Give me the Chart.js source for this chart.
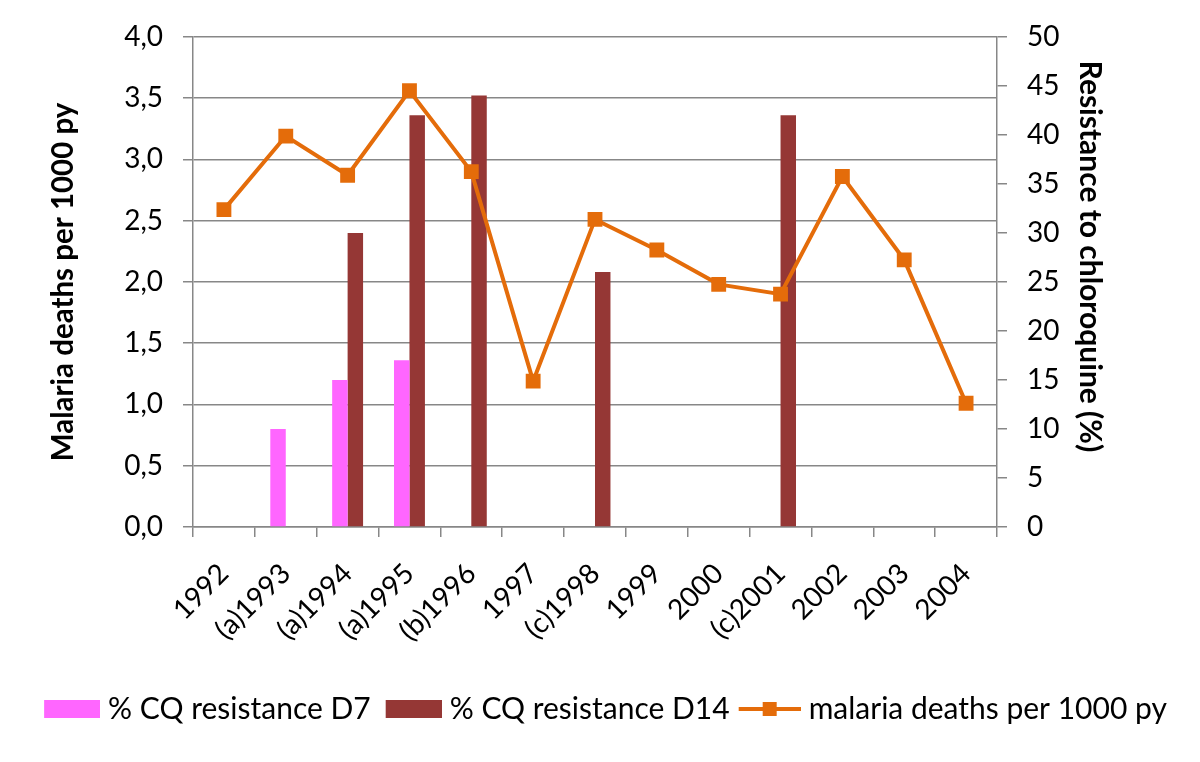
<!DOCTYPE html>
<html>
<head>
<meta charset="utf-8">
<script src="https://cdn.jsdelivr.net/npm/chart.js@4.4.1/dist/chart.umd.min.js"></script>
<style>
  html, body { margin: 0; padding: 0; background: #fff; }
  #chart { display: block; }
</style>
</head>
<body>
<canvas id="chart" width="1200" height="762"></canvas>
<script>
// categories
const years = ["1992", "(a)1993", "(a)1994", "(a)1995", "(b)1996", "1997", "(c)1998",
               "1999", "2000", "(c)2001", "2002", "2003", "2004"];

// % CQ resistance (right axis)
const resistD7  = [null, 10, 15, 17, null, null, null, null, null, null, null, null, null];
const resistD14 = [null, null, 30, 42, 44, null, 26, null, null, 42, null, null, null];

// malaria deaths per 1000 py (left axis)
const deaths = [2.59, 3.19, 2.87, 3.56, 2.90, 1.19, 2.51, 2.26, 1.98, 1.90, 2.86, 2.18, 1.01];

// tick labels
const leftTicks  = [0, 0.5, 1, 1.5, 2, 2.5, 3, 3.5, 4];
const rightTicks = [0, 5, 10, 15, 20, 25, 30, 35, 40, 45, 50];

const PINK = "#ff66ff";
const DARKRED = "#953735";
const ORANGE = "#e46c0a";
const GRID = "#878787";
const FONT = "Lato, 'Open Sans', sans-serif";

// little canvases for the legend markers (drawn shifted right, closer to the text)
function boxSwatch(color) {
    const c = document.createElement("canvas");
    c.width = 74; c.height = 18;
    const g = c.getContext("2d");
    g.fillStyle = color;
    g.fillRect(18, 0, 56, 18);
    return c;
}
function lineSwatch(color) {
    const c = document.createElement("canvas");
    c.width = 74; c.height = 16;
    const g = c.getContext("2d");
    g.fillStyle = color;
    g.fillRect(12, 6, 62, 4);
    g.fillRect(36, 1, 14, 14);
    return c;
}
const legendMarks = [boxSwatch(PINK), boxSwatch(DARKRED), lineSwatch(ORANGE)];

new Chart(document.getElementById("chart").getContext("2d"), {
    type: "bar",
    data: {
        labels: years,
        datasets: [
            {
                label: "% CQ resistance D7",
                data: resistD7,
                backgroundColor: PINK,
                yAxisID: "y1",
                order: 2
            },
            {
                label: "% CQ resistance D14",
                data: resistD14,
                backgroundColor: DARKRED,
                yAxisID: "y1",
                order: 2
            },
            {
                type: "line",
                label: "malaria deaths per 1000 py",
                data: deaths,
                borderColor: ORANGE,
                backgroundColor: ORANGE,
                borderWidth: 4,
                tension: 0,
                pointStyle: "rect",
                pointRadius: 10.5,
                pointBorderWidth: 0,
                yAxisID: "y",
                order: 1
            }
        ]
    },
    options: {
        responsive: false,
        animation: false,
        devicePixelRatio: 1,
        layout: { padding: { top: 35, bottom: 28, left: 0, right: 0 } },
        datasets: {
            bar: { barPercentage: 1, categoryPercentage: 0.5 }
        },
        plugins: {
            tooltip: { enabled: false },
            legend: {
                display: true,
                position: "bottom",
                labels: {
                    usePointStyle: true,
                    pointStyleWidth: 60,
                    padding: 4,
                    color: "#000",
                    font: { family: FONT, size: 30 },
                    sort: (a, b) => a.datasetIndex - b.datasetIndex,
                    generateLabels: function (chart) {
                        const items = Chart.defaults.plugins.legend.labels.generateLabels(chart);
                        items.forEach(item => {
                            item.pointStyle = legendMarks[item.datasetIndex];
                        });
                        return items;
                    }
                }
            }
        },
        scales: {
            x: {
                offset: true,
                grid: {
                    offset: true,
                    drawOnChartArea: false,
                    drawTicks: true,
                    tickLength: 10,
                    color: GRID,
                    lineWidth: 1.5
                },
                border: { display: true, color: GRID, width: 1.5 },
                ticks: {
                    color: "#000",
                    font: { family: FONT, size: 28 },
                    minRotation: 45,
                    maxRotation: 45,
                    autoSkip: false,
                    padding: 20
                },
                afterFit: scale => { scale.height = 163; }
            },
            y: {
                position: "left",
                min: leftTicks[0],
                max: leftTicks[leftTicks.length - 1],
                afterBuildTicks: scale => { scale.ticks = leftTicks.map(v => ({ value: v })); },
                grid: { color: GRID, lineWidth: 1.5, tickLength: 10 },
                border: { display: true, color: GRID, width: 1.5 },
                ticks: {
                    color: "#000",
                    padding: 20,
                    font: { family: FONT, size: 28 },
                    callback: v => v.toFixed(1).replace(".", ",")
                },
                title: {
                    display: true,
                    text: "Malaria deaths per 1000 py",
                    color: "#000",
                    font: { family: FONT, size: 29.5, weight: "bold" },
                    padding: { top: 46, bottom: 0 }
                },
                afterFit: scale => { scale.width = 193; }
            },
            y1: {
                position: "right",
                min: rightTicks[0],
                max: rightTicks[rightTicks.length - 1],
                afterBuildTicks: scale => { scale.ticks = rightTicks.map(v => ({ value: v })); },
                grid: { drawOnChartArea: false, color: GRID, lineWidth: 1.5, tickLength: 10 },
                border: { display: true, color: GRID, width: 1.5 },
                ticks: {
                    color: "#000",
                    padding: 20,
                    font: { family: FONT, size: 28 }
                },
                title: {
                    display: true,
                    // trailing spaces nudge the title up like in the original
                    text: "Resistance to chloroquine (%)" + "\u00a0".repeat(7),
                    color: "#000",
                    font: { family: FONT, size: 30, weight: "bold" },
                    padding: { top: 92, bottom: 0 }
                },
                afterFit: scale => { scale.width = 203; }
            }
        }
    }
});
</script>
</body>
</html>
